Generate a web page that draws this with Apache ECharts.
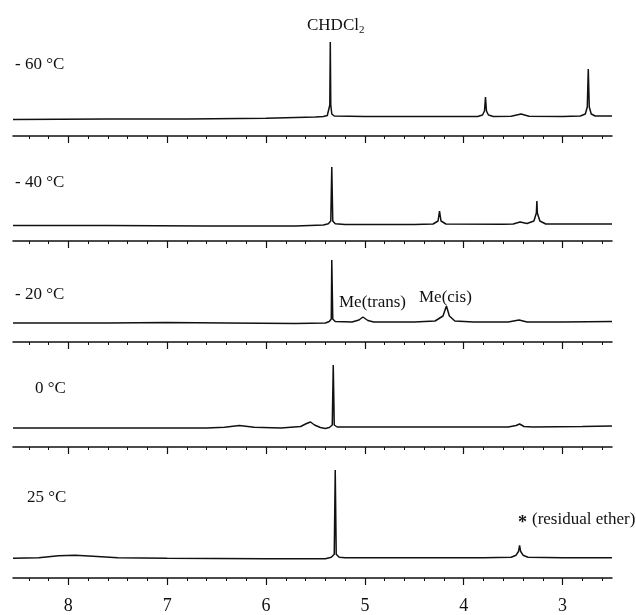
<!DOCTYPE html>
<html>
<head>
<meta charset="utf-8">
<script src="https://cdn.jsdelivr.net/npm/echarts@6/dist/echarts.min.js"></script>
<style>
  html, body { margin: 0; padding: 0; background: #fff; }
  #main { width: 636px; height: 615px; }
</style>
</head>
<body>
<div id="main"></div>
<script>
// chemical shift axis (ppm), drawn right-to-left
var ppmMin = 2.5;
var ppmMax = 8.56;
var majorTicks = [3, 4, 5, 6, 7, 8];
var minorTicks = [2.6, 2.8, 3.2, 3.4, 3.6, 3.8, 4.2, 4.4, 4.6, 4.8, 5.2, 5.4, 5.6, 5.8,
                  6.2, 6.4, 6.6, 6.8, 7.2, 7.4, 7.6, 7.8, 8.2, 8.4];

var temps = ['- 60 °C', '- 40 °C', '- 20 °C', '0 °C', '25 °C'];

// [ppm, intensity]
var spec60 = [[8.56, -2.5], [7.6, -2], [6.8, -2], [6.0, -1.2], [5.5, 0], [5.42, 0.5], [5.38, 1.5], [5.36, 3],
  [5.355, 12], [5.35, 75], [5.345, 12], [5.335, 3], [5.31, 1], [5.0, 0.5], [4.4, 0.5], [3.86, 0.5],
  [3.81, 2], [3.79, 6], [3.78, 20], [3.77, 6], [3.75, 2], [3.70, 0.5], [3.52, 0.8], [3.42, 3],
  [3.34, 0.8], [3.0, 0.5], [2.82, 1], [2.77, 3], [2.75, 10], [2.74, 48], [2.73, 10], [2.71, 3],
  [2.67, 1], [2.5, 1]];
var spec40 = [[8.56, -0.5], [7.6, -0.5], [6.6, -1], [5.7, -1], [5.42, 0], [5.37, 1.2], [5.345, 4], [5.335, 58],
  [5.325, 4], [5.30, 1.2], [5.2, 0.5], [4.5, 0.5], [4.31, 1], [4.26, 4], [4.245, 14], [4.23, 4],
  [4.18, 1], [3.6, 0.8], [3.50, 1], [3.43, 3], [3.36, 1.5], [3.29, 4], [3.265, 12], [3.26, 24], [3.255, 12],
  [3.23, 4], [3.17, 1], [2.8, 1], [2.5, 1]];
var spec20 = [[8.56, 0], [7.6, 0], [7.0, 0.5], [6.4, 0], [5.7, -0.5], [5.40, 0], [5.36, 1.5], [5.34, 4],
  [5.335, 63], [5.325, 4], [5.30, 1.5], [5.13, 1], [5.06, 3], [5.02, 6], [4.97, 2.5], [4.91, 1],
  [4.5, 1], [4.29, 2], [4.21, 7], [4.175, 17], [4.145, 7], [4.09, 2], [3.9, 1], [3.55, 1], [3.44, 3],
  [3.36, 1], [3.0, 1], [2.5, 1.5]];
var spec0 = [[8.56, 0], [7.5, 0], [6.6, 0], [6.42, 0.8], [6.27, 2.5], [6.12, 0.8], [5.85, 0], [5.65, 1.5],
  [5.59, 4.5], [5.55, 6], [5.51, 3], [5.45, 0.5], [5.40, -0.5], [5.36, 0.5], [5.33, 3], [5.32, 63],
  [5.31, 3], [5.28, 1], [5.0, 1], [4.3, 1], [3.55, 1], [3.47, 2.5], [3.435, 4], [3.39, 1.5], [3.30, 1],
  [2.8, 1.5], [2.5, 2]];
var spec25 = [[8.56, 0], [8.3, 0.5], [8.1, 2.5], [7.93, 3], [7.75, 2], [7.5, 0.5], [7.0, 0], [6.0, -0.5],
  [5.40, -0.5], [5.34, 1], [5.31, 4], [5.30, 89], [5.29, 4], [5.26, 1], [5.2, 0.5], [4.5, 0.5],
  [3.8, 0.5], [3.52, 1], [3.47, 3], [3.445, 7], [3.435, 13], [3.425, 7], [3.40, 3], [3.35, 1],
  [3.0, 0.5], [2.5, 0.5]];

var spectra = [spec60, spec40, spec20, spec0, spec25];

// pixel y of each panel's axis line and the gap up to the baseline
var axisY = [136, 241, 342, 447, 579];
var below = [19, 16, 19, 19, 20];
var above = 95;

var chart = echarts.init(document.getElementById('main'));

var grids = [], xAxes = [], yAxes = [], series = [];
for (var i = 0; i < spectra.length; i++) {
    grids.push({ left: 13, right: 24, top: axisY[i] - below[i] - above, height: below[i] + above });
    var last = i === spectra.length - 1;
    // major ticks (and labels on the bottom panel)
    xAxes.push({
        type: 'value', gridIndex: i, min: ppmMin, max: ppmMax, inverse: true, position: 'bottom',
        axisLine: { onZero: false, lineStyle: { color: '#111', width: 1.5 } },
        axisTick: { customValues: majorTicks, length: 7, lineStyle: { color: '#111', width: 1.2 } },
        axisLabel: {
            show: last, customValues: majorTicks, margin: 19,
            fontFamily: 'Liberation Serif', fontSize: 18, color: '#111'
        },
        splitLine: { show: false }
    });
    // minor ticks
    xAxes.push({
        type: 'value', gridIndex: i, min: ppmMin, max: ppmMax, inverse: true, position: 'bottom',
        axisLine: { show: false, onZero: false },
        axisTick: { customValues: minorTicks, length: 3, lineStyle: { color: '#111', width: 1 } },
        axisLabel: { show: false },
        splitLine: { show: false }
    });
    yAxes.push({ type: 'value', gridIndex: i, min: -below[i], max: above, show: false });
    series.push({
        type: 'line', xAxisIndex: i * 2, yAxisIndex: i, data: spectra[i],
        showSymbol: false, silent: true,
        lineStyle: { color: '#111', width: 1.5 }
    });
}

var labelFont = { fontFamily: 'Liberation Serif', fontSize: 17, fill: '#111' };
var labelY = [56, 174, 286, 380, 489];
var labelX = [15, 15, 15, 35, 27];
var graphic = [];
for (var j = 0; j < temps.length; j++) {
    graphic.push({
        type: 'text', left: labelX[j], top: labelY[j],
        style: Object.assign({ text: temps[j] }, labelFont)
    });
}
graphic.push({ type: 'text', left: 339, top: 294, style: Object.assign({ text: 'Me(trans)' }, labelFont) });
graphic.push({ type: 'text', left: 419, top: 289, style: Object.assign({ text: 'Me(cis)' }, labelFont) });
graphic.push({ type: 'text', left: 518, top: 514, style: Object.assign({ text: '*' }, labelFont, { fontSize: 18, fontWeight: 'bold' }) });
graphic.push({ type: 'text', left: 532, top: 511, style: Object.assign({ text: '(residual ether)' }, labelFont) });

chart.setOption({
    animation: false,
    title: {
        text: 'CHDCl{s|2}', left: 302, top: 11,
        textStyle: {
            fontFamily: 'Liberation Serif', fontSize: 17, fontWeight: 'normal', color: '#111',
            rich: { s: { fontFamily: 'Liberation Serif', fontSize: 11, verticalAlign: 'bottom', padding: [9, 0, 0, 0], color: '#111' } }
        }
    },
    grid: grids,
    xAxis: xAxes,
    yAxis: yAxes,
    series: series,
    graphic: graphic
});
</script>
</body>
</html>
